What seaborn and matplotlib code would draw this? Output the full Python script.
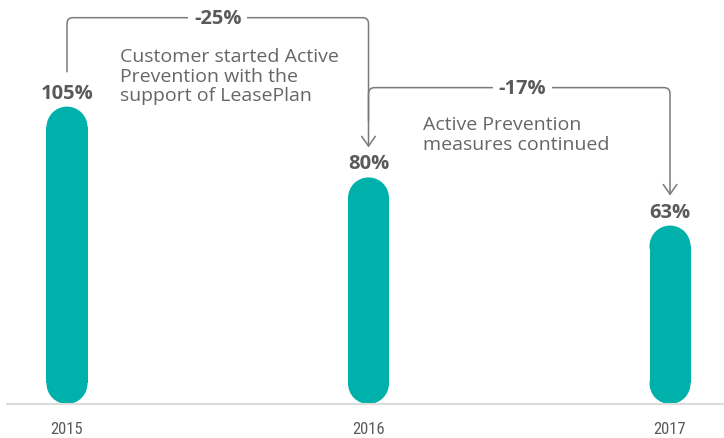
import pandas as pd
import seaborn as sns
import matplotlib.pyplot as plt
from matplotlib import font_manager
from matplotlib.patches import FancyArrowPatch, Rectangle, Ellipse
from matplotlib.path import Path

# data
years = ["2015", "2016", "2017"]
values = [105, 80, 63]
labels = ["105%", "80%", "63%"]
changes = ["-25%", "-17%"]
notes = ["Customer started Active\nPrevention with the\nsupport of LeasePlan",
         "Active Prevention\nmeasures continued"]

df = pd.DataFrame({"Year": years, "Value": values})

teal = "#00B0AA"
grey = "#5a5a5a"
line_grey = "#7a7a7a"

sns.set_style("white")
plt.rcParams["font.family"] = ["Open Sans", "DejaVu Sans"]

# narrow font for the year labels, if one is around
names = {f.name for f in font_manager.fontManager.ttflist}
narrow = next((n for n in ["Liberation Sans Narrow", "DejaVu Sans Condensed",
                           "Roboto Condensed", "Open Sans Condensed"] if n in names), None)

fig = plt.figure(figsize=(7.24, 4.39), dpi=100)
ax = fig.add_axes([7 / 724, 34 / 439, 717 / 724, 405 / 439])

bar_w = 0.136
sns.barplot(data=df, x="Year", y="Value", color=teal, width=bar_w, ax=ax)

ax.set_xlim(-0.199, 2.179)
ax.set_ylim(0, 143)

# swap bars for pill shapes
px_x = 1 / 301.5   # data x per pixel
px_y = 1 / 2.83    # data y per pixel
aspect = px_y / px_x
for p in list(ax.patches):
    x0, w, h = p.get_x(), p.get_width(), p.get_height()
    p.remove()
    r = w / 2 * aspect
    cx = x0 + w / 2
    ax.add_patch(Rectangle((x0, r), w, h - 2 * r, facecolor=teal, edgecolor="none"))
    ax.add_patch(Ellipse((cx, r), w, 2 * r, facecolor=teal, edgecolor="none"))
    ax.add_patch(Ellipse((cx, h - r), w, 2 * r, facecolor=teal, edgecolor="none"))

# value labels
for i, (v, t) in enumerate(zip(values, labels)):
    ax.annotate(t, (i, v), xytext=(0, 6.5), textcoords="offset points",
                ha="center", va="baseline", fontsize=14.5, fontweight="bold",
                color=grey)


def bracket(x0, y0, ytop, x1, y1, r=6):
    rx, ry = r * px_x, r * px_y
    verts = [(x0, y0), (x0, ytop - ry), (x0, ytop), (x0 + rx, ytop),
             (x1 - rx, ytop), (x1, ytop), (x1, ytop - ry), (x1, y1)]
    codes = [Path.MOVETO, Path.LINETO, Path.CURVE3, Path.CURVE3,
             Path.LINETO, Path.CURVE3, Path.CURVE3, Path.LINETO]
    arr = FancyArrowPatch(path=Path(verts, codes),
                          arrowstyle="->,head_length=0.5,head_width=0.35",
                          mutation_scale=14, color=line_grey, lw=1.1,
                          transform=ax.transData)
    ax.add_patch(arr)


bracket(0, 117.3, 136.4, 1, 90.6)
bracket(1, 100, 111.7, 2, 73.6)

for xc, yc, t in [(0.5, 136.4, changes[0]), (1.51, 111.7, changes[1])]:
    ax.text(xc, yc, t, ha="center", va="center", fontsize=14.5,
            fontweight="bold", color=grey,
            bbox=dict(facecolor="white", edgecolor="none", pad=4))

ax.text(0.176, 115.9, notes[0], ha="left", va="center", fontsize=14,
        color="#666666", linespacing=1.1)
ax.text(1.18, 95.4, notes[1], ha="left", va="center", fontsize=14,
        color="#666666", linespacing=1.1)

# axes styling
for s in ["top", "right", "left"]:
    ax.spines[s].set_visible(False)
ax.spines["bottom"].set_color("#dcdcdc")
ax.spines["bottom"].set_linewidth(1.5)
ax.set_yticks([])
ax.set_xlabel("")
ax.set_ylabel("")
ax.tick_params(axis="x", length=0, pad=12)
for lab in ax.get_xticklabels():
    if narrow:
        lab.set_family(narrow)
        lab.set_fontsize(12)
    else:
        lab.set_fontsize(11)
    lab.set_color(grey)

fig.savefig("out.png", dpi=100)
